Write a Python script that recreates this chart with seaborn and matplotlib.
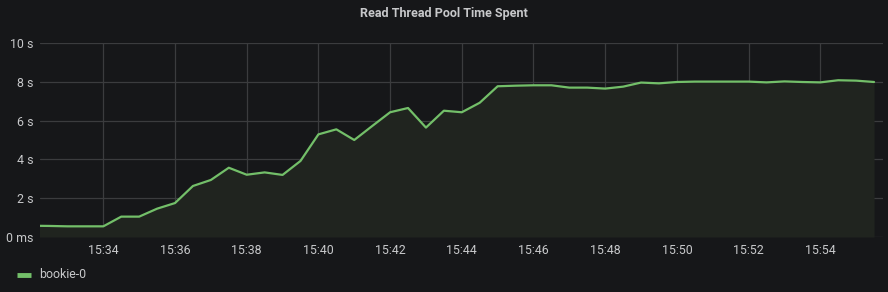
import matplotlib
matplotlib.use("Agg")
import matplotlib.pyplot as plt
import matplotlib.dates as mdates
import seaborn as sns
import pandas as pd
import numpy as np

times = ["15:32:00", "15:32:30", "15:33:00", "15:33:30", "15:34:00", "15:34:30", "15:35:00",
         "15:35:30", "15:36:00", "15:36:30", "15:37:00", "15:37:30", "15:38:00", "15:38:30",
         "15:39:00", "15:39:30", "15:40:00", "15:40:30", "15:41:00", "15:41:30", "15:42:00",
         "15:42:30", "15:43:00", "15:43:30", "15:44:00", "15:44:30", "15:45:00", "15:45:30",
         "15:46:00", "15:46:30", "15:47:00", "15:47:30", "15:48:00", "15:48:30", "15:49:00",
         "15:49:30", "15:50:00", "15:50:30", "15:51:00", "15:51:30", "15:52:00", "15:52:30",
         "15:53:00", "15:53:30", "15:54:00", "15:54:30", "15:55:00", "15:55:30"]
bookie0 = [0.58, 0.57, 0.55, 0.55, 0.55, 1.05, 1.05,
           1.46, 1.75, 2.63, 2.94, 3.57, 3.21, 3.33,
           3.20, 3.92, 5.29, 5.55, 5.00, 5.72, 6.43,
           6.65, 5.64, 6.51, 6.43, 6.92, 7.77, 7.80,
           7.82, 7.82, 7.70, 7.70, 7.65, 7.75, 7.96,
           7.92, 7.99, 8.01, 8.01, 8.01, 8.01, 7.97,
           8.02, 7.99, 7.97, 8.08, 8.06, 7.99]
series_name = "bookie-0"
title = "Read Thread Pool Time Spent"
y_ticks = [0, 2, 4, 6, 8, 10]
y_labels = ["0 ms", "2 s", "4 s", "6 s", "8 s", "10 s"]

df = pd.DataFrame({"time": pd.to_datetime("2021-01-01 " + pd.Series(times)),
                   "value": bookie0, "series": series_name})

BG = "#161719"
GRID = "#3b3c3e"
TEXT = "#c7c8ca"
GREEN = "#73bf69"

sns.set_theme(style="dark")
plt.rcParams["font.family"] = ["Roboto", "DejaVu Sans"]

fig = plt.figure(figsize=(8.88, 2.92), dpi=100, facecolor=BG)
ax = fig.add_axes([40/888, 1-237/292, (883-40)/888, (237-43)/292])
ax.set_facecolor(BG)

sns.lineplot(data=df, x="time", y="value", ax=ax, color=GREEN, linewidth=1.6, legend=False)
ax.fill_between(df["time"], df["value"], 0, color="#20241f", zorder=1, linewidth=0)

ax.set_xlim(pd.Timestamp("2021-01-01 15:32:14"), pd.Timestamp("2021-01-01 15:55:45"))
ax.set_ylim(0, 10)
ax.set_yticks(y_ticks)
ax.set_yticklabels(y_labels)
ax.xaxis.set_major_locator(mdates.MinuteLocator(byminute=range(0, 60, 2)))
ax.xaxis.set_major_formatter(mdates.DateFormatter("%H:%M"))

ax.grid(True, color=GRID, linewidth=0.9)
ax.set_axisbelow(True)
for s in ax.spines.values():
    s.set_visible(False)
ax.tick_params(axis="both", length=0, colors=TEXT, labelsize=8.9)
ax.tick_params(axis="y", pad=5)
ax.tick_params(axis="x", pad=5)
ax.set_xlabel("")
ax.set_ylabel("")

fig.text(0.5, 1-13/292, title, ha="center", va="center", color=TEXT, fontsize=9,
         fontweight="bold")

# legend
fig.add_artist(plt.Line2D([17/888, 31/888], [1-275/292, 1-275/292], color=GREEN, linewidth=3.5,
                          solid_capstyle="butt", transform=fig.transFigure))
fig.text(39/888, 1-275/292, series_name, ha="left", va="center", color=TEXT, fontsize=8.9)

fig.savefig("out.png", dpi=100, facecolor=BG)
